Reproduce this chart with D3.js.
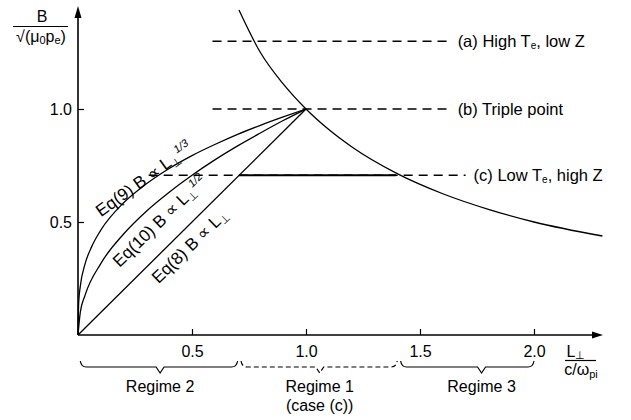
<!DOCTYPE html>
<html lang="en">
<head>
<meta charset="UTF-8">
<title>Regimes B vs L</title>
<script src="https://d3js.org/d3.v7.min.js"></script>
<style>
  body { margin: 0; background: #fff; }
  svg { display: block; font-family: "Liberation Sans", Arial, sans-serif; }
  svg text { fill: #000; }
  .tick text { font-size: 16px; }
  .tick line { stroke: #000; stroke-width: 1.2; }
</style>
</head>
<body>
<svg id="chart" width="631" height="420"></svg>
<script>
// --- data ---
const xTicks = [0.5, 1.0, 1.5, 2.0];
const yTicks = [0.5, 1.0];

// Eq(8) B ~ L
const eq8L = [0, 1.0];
const eq8B = [0, 1.0];
// Eq(10) B ~ L^1/2
const eq10L = [0, 0.01, 0.03, 0.1, 0.2, 0.3, 0.4, 0.5, 0.6, 0.7, 0.8, 0.9, 1.0];
const eq10B = [0, 0.100, 0.173, 0.316, 0.447, 0.548, 0.632, 0.707, 0.775, 0.837, 0.894, 0.949, 1.0];
// Eq(9) B ~ L^1/3
const eq9L = [0, 0.003, 0.01, 0.03, 0.06, 0.1, 0.2, 0.3, 0.4, 0.5, 0.6, 0.7, 0.8, 0.9, 1.0];
const eq9B = [0, 0.144, 0.215, 0.311, 0.391, 0.464, 0.585, 0.669, 0.737, 0.794, 0.843, 0.888, 0.928, 0.965, 1.0];
// falling boundary curve
const bndL = [0.706, 0.8, 0.9, 1.0, 1.1, 1.2, 1.4, 1.6, 1.8, 2.0, 2.3];
const bndB = [1.438, 1.25, 1.111, 1.0, 0.909, 0.833, 0.714, 0.625, 0.556, 0.50, 0.438];

// horizontal cases
const caseB = [1.3, 1.0, 0.707];
const caseStart = [0.59, 0.59, 0.31];
const caseEnd = [1.63, 1.63, 1.70];
const caseTag = ["(a) High T", "(b) Triple point", "(c) Low T"];
const caseTail = [", low Z", "", ", high Z"];
const caseSub = ["e", "", "e"];
// solid piece of case (c)
const solidC = [0.707, 1.394];

// regimes along the L axis
const regimeName = ["Regime 2", "Regime 1", "Regime 3"];
const regimeStart = [0.01, 0.715, 1.415];
const regimeEnd = [0.70, 1.40, 2.0];
const regimeMid = [0.36, 1.06, 1.77];

// curve labels: position (L, B), angle
const eqLabel = ["Eq(9) B \u221D L", "Eq(10) B \u221D L", "Eq(8) B \u221D L"];
const eqPow = ["1/3", "1/2", ""];
const eqAtL = [0.288, 0.358, 0.49];
const eqAtB = [0.69, 0.505, 0.395];
const eqAngle = [-36, -44, -44];

// --- chart ---
const svg = d3.select("#chart");
const x = d3.scaleLinear().domain([0, 2.0]).range([78, 534]);
const y = d3.scaleLinear().domain([0, 1.0]).range([335, 109]);

const line = d3.line().x(d => x(d[0])).y(d => y(d[1])).curve(d3.curveMonotoneX);
const zip = (a, b) => a.map((v, i) => [v, b[i]]);

// axes with inward ticks
svg.append("g").attr("transform", "translate(0,335)")
  .call(d3.axisBottom(x).tickValues(xTicks).tickFormat(d3.format(".1f"))
    .tickSizeInner(-6).tickSizeOuter(0).tickPadding(8))
  .call(g => g.select(".domain").remove())
  .selectAll("text").attr("dy", "0.85em");

svg.append("g").attr("transform", "translate(78,0)")
  .call(d3.axisLeft(y).tickValues(yTicks).tickFormat(d3.format(".1f"))
    .tickSizeInner(-6).tickSizeOuter(0).tickPadding(6))
  .call(g => g.select(".domain").remove());

// axis lines + arrowheads
svg.append("line").attr("x1", 78).attr("x2", 596).attr("y1", 335).attr("y2", 335)
  .attr("stroke", "#000").attr("stroke-width", 1.6);
svg.append("path").attr("d", "M603,335 L592,331.5 L592,338.5 Z").attr("fill", "#000");
svg.append("line").attr("x1", 78).attr("x2", 78).attr("y1", 335).attr("y2", 14)
  .attr("stroke", "#000").attr("stroke-width", 1.6);
svg.append("path").attr("d", "M78,6 L74.5,18 L81.5,18 Z").attr("fill", "#000");

// axis titles
const yt = svg.append("g").attr("font-size", 16);
yt.append("text").attr("x", 42).attr("y", 22).attr("text-anchor", "middle").text("B");
yt.append("line").attr("x1", 13).attr("x2", 68).attr("y1", 26.5).attr("y2", 26.5)
  .attr("stroke", "#000").attr("stroke-width", 1.2);
const yd = yt.append("text").attr("x", 41).attr("y", 42).attr("text-anchor", "middle");
yd.append("tspan").text("\u221A(\u03BC");
yd.append("tspan").attr("font-size", 11).attr("dy", 2).text("0");
yd.append("tspan").attr("dy", -2).text("p");
yd.append("tspan").attr("font-size", 11).attr("dy", 2).text("e");
yd.append("tspan").attr("dy", -2).text(")");

const xt = svg.append("g").attr("font-size", 16);
const xn = xt.append("text").attr("x", 576).attr("y", 357).attr("text-anchor", "middle");
xn.append("tspan").text("L");
xn.append("tspan").attr("font-size", 11).attr("dy", 2).text("\u22A5");
xt.append("line").attr("x1", 565).attr("x2", 596).attr("y1", 360.5).attr("y2", 360.5)
  .attr("stroke", "#000").attr("stroke-width", 1.2);
const xd = xt.append("text").attr("x", 581).attr("y", 375).attr("text-anchor", "middle");
xd.append("tspan").text("c/\u03C9");
xd.append("tspan").attr("font-size", 11).attr("dy", 3).text("pi");

// horizontal case lines
caseB.forEach((b, i) => {
  svg.append("line").attr("x1", x(caseStart[i])).attr("x2", x(caseEnd[i]))
    .attr("y1", y(b)).attr("y2", y(b))
    .attr("stroke", "#000").attr("stroke-width", 1.4).attr("stroke-dasharray", "9,6");
  const t = svg.append("text").attr("x", x(caseEnd[i]) + 8).attr("y", y(b) + 6)
    .attr("font-size", 16.5);
  t.append("tspan").text(caseTag[i]);
  if (caseSub[i]) {
    t.append("tspan").attr("font-size", 10).attr("dy", 2).text(caseSub[i]);
    t.append("tspan").attr("dy", -2).text(caseTail[i]);
  }
});
svg.append("line").attr("x1", x(solidC[0])).attr("x2", x(solidC[1]))
  .attr("y1", y(caseB[2])).attr("y2", y(caseB[2]))
  .attr("stroke", "#000").attr("stroke-width", 2);

// curves
[[eq8L, eq8B], [eq10L, eq10B], [eq9L, eq9B], [bndL, bndB]].forEach(([l, b]) => {
  svg.append("path").datum(zip(l, b)).attr("d", line)
    .attr("fill", "none").attr("stroke", "#000").attr("stroke-width", 1.3);
});

// curve labels
eqLabel.forEach((s, i) => {
  const px = x(eqAtL[i]), py = y(eqAtB[i]);
  const t = svg.append("text").attr("font-size", 17).attr("text-anchor", "middle")
    .attr("transform", `translate(${px},${py}) rotate(${eqAngle[i]})`).attr("dy", "0.35em");
  t.append("tspan").text(s);
  t.append("tspan").attr("font-size", 11).attr("dy", 3).text("\u22A5");
  if (eqPow[i]) t.append("tspan").attr("font-size", 11).attr("dy", -10)
    .attr("font-style", "italic").text(eqPow[i]);
});

// regime braces
const braceTop = 361, braceMid = 367, braceTip = 373;
regimeName.forEach((name, i) => {
  const a = x(regimeStart[i]), b = x(regimeEnd[i]), m = x(regimeMid[i]);
  const d = `M${a},${braceTop} Q${a + 1},${braceMid} ${a + 6},${braceMid} L${m - 4},${braceMid} L${m},${braceTip}` +
            ` L${m + 4},${braceMid} L${b - 6},${braceMid} Q${b - 1},${braceMid} ${b},${braceTop}`;
  svg.append("path").attr("d", d).attr("fill", "none").attr("stroke", "#000")
    .attr("stroke-width", 1.2).attr("stroke-dasharray", i === 1 ? "5,3" : null);
  svg.append("text").attr("x", m).attr("y", 392).attr("text-anchor", "middle")
    .attr("font-size", 16).text(name);
});
svg.append("text").attr("x", x(regimeMid[1])).attr("y", 411).attr("text-anchor", "middle")
  .attr("font-size", 16).text("(case (c))");
</script>
</body>
</html>
